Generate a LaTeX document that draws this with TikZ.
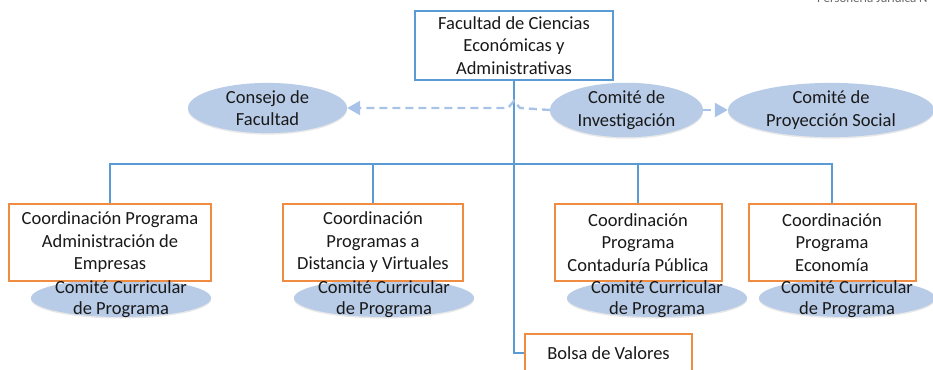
\documentclass[tikz,border=0pt]{standalone}
\usepackage{fontspec}
\setmainfont{Carlito}
\usetikzlibrary{arrows.meta,shadows,shapes.geometric}
\definecolor{lineblue}{HTML}{5B9BD5}
\definecolor{boxorange}{HTML}{F08C42}
\definecolor{ellfill}{HTML}{B8CCE8}
\definecolor{dashblue}{HTML}{A9C3E8}
\begin{document}
\begin{tikzpicture}[x=1pt,y=-1pt,
  every node/.style={font=\fontsize{18.5}{22.5}\selectfont, align=center, inner sep=0pt, text=black!90},
  topbox/.style={draw=lineblue, line width=2pt, fill=white, minimum width=198pt, minimum height=69pt},
  orgbox/.style={draw=boxorange, line width=2pt, fill=white, minimum height=77pt},
  comell/.style={ellipse, fill=ellfill, draw=none, minimum height=36pt,
     drop shadow={opacity=0.18, shadow xshift=0pt, shadow yshift=-1.5pt}},
  curell/.style={ellipse, fill=ellfill, draw=none, minimum width=180pt, minimum height=38pt,
     drop shadow={opacity=0.18, shadow xshift=0pt, shadow yshift=-1.5pt}},
  link/.style={draw=lineblue, line width=2.2pt},
  dlink/.style={draw=dashblue, line width=2.4pt, dash pattern=on 8pt off 5pt}
]
\useasboundingbox (0,0) rectangle (933,369);

\node[anchor=base west, font=\fontsize{13}{15}\selectfont, text=black!60] (pj) at (817,3) {Personería Jurídica N};

% committee ellipses (top)
\node[comell, minimum width=159pt] (consejo) at (267.5,108) {Consejo de\\Facultad};
\node[comell, minimum width=153pt] (invest) at (626.5,110) {Comité de\\Investigación};
\node[comell, minimum width=206pt] (proy) at (831,110) {Comité de\\Proyección Social};

% top box
\node[topbox] (fac) at (514,45.5) {Facultad de Ciencias\\Económicas y\\Administrativas};

% curricular ellipses (behind boxes)
\node[curell] (e1) at (121,298) {};
\node[curell] (e2) at (384,298) {};
\node[curell] (e3) at (657,298) {};
\node[curell, minimum width=176pt] (e4) at (847,298) {};

% coordination boxes
\node[orgbox, minimum width=202pt] (b1) at (110,242.5) {Coordinación Programa\\Administración de\\Empresas};
\node[orgbox, minimum width=180pt] (b2) at (373,242.5) {Coordinación\\Programas a\\Distancia y Virtuales};
\node[orgbox, minimum width=167pt] (b3) at (638,242.5) {Coordinación\\Programa\\Contaduría Pública};
\node[orgbox, minimum width=167pt] (b4) at (832,242.5) {Coordinación\\Programa\\Economía};
\node[orgbox, minimum width=167pt, minimum height=38pt] (bolsa) at (608.5,353) {Bolsa de Valores};

% curricular texts
\foreach \e in {e1,e2,e3,e4}{
  \node[font=\fontsize{18.5}{20.5}\selectfont] (t\e) at ([yshift=-1pt]\e.center) {Comité Curricular\\de Programa};
}

% solid connectors
\coordinate (bus) at (514,164);
\draw[link] (fac.south) -- (fac.south |- bolsa.west) -- (bolsa.west);
\draw[link] (b1.north) -- (b1.north |- bus) -- (b4.north |- bus) -- (b4.north);
\draw[link] (b2.north) -- (b2.north |- bus);
\draw[link] (b3.north) -- (b3.north |- bus);

% dashed connectors
\draw[dlink, -{Triangle[length=13pt,width=14pt]}, dashblue]
  (invest.west) -- (520,108) -- (514,101) -- (508,108) -- (consejo.east |- 0,108);
\draw[dlink, -{Triangle[length=13pt,width=14pt]}, dashblue]
  (invest.east) -- (proy.west);
\end{tikzpicture}
\end{document}
